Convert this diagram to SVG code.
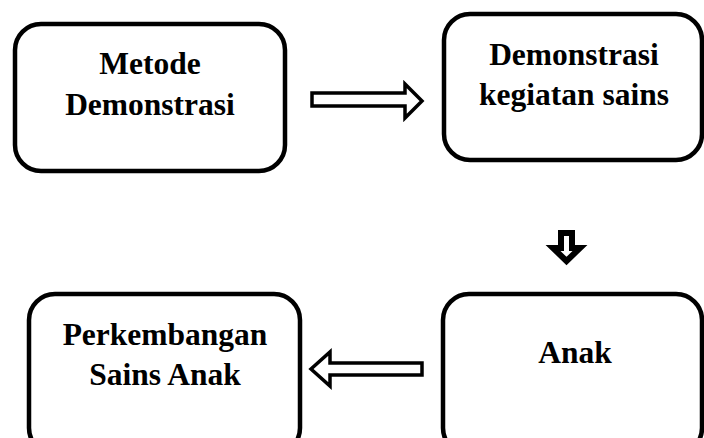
<svg xmlns="http://www.w3.org/2000/svg" width="704" height="438" viewBox="0 0 704 438">
<style>
.box{fill:#fff;stroke:#000;stroke-width:4.5}
.t{font-family:"Liberation Serif","Times New Roman",serif;font-weight:bold;font-size:31.5px;text-anchor:middle;fill:#000}
.arr{fill:#fff;stroke:#000;stroke-width:3.5;stroke-linejoin:miter}
</style>
<rect width="704" height="438" fill="#fff"/>
<g id="n1"><rect class="box" x="15" y="24" width="270" height="147" rx="26"/>
<text class="t" x="150" y="74">Metode</text><text class="t" x="150" y="115">Demonstrasi</text></g>
<g id="n2"><rect class="box" x="444" y="14" width="258" height="146" rx="26"/>
<text class="t" x="574" y="65">Demonstrasi</text><text class="t" x="574" y="105">kegiatan sains</text></g>
<g id="n3"><rect class="box" x="29" y="294" width="271" height="160" rx="26"/>
<text class="t" x="165" y="345">Perkembangan</text><text class="t" x="165" y="385">Sains Anak</text></g>
<g id="n4"><rect class="box" x="443" y="294" width="259" height="160" rx="26"/>
<text class="t" x="575" y="363">Anak</text></g>
<g id="connectors">
<polygon class="arr" points="312,93 405,93 405,84 422,101 405,118 405,106 312,106"/>
<polygon class="arr" style="stroke-width:6" points="561,233 572,233 572,248 580,248 566.5,261 553,248 561,248"/>
<polygon class="arr" points="422,363 330,363 330,352 311,369 330,386 330,375 422,375"/>
</g>
</svg>
